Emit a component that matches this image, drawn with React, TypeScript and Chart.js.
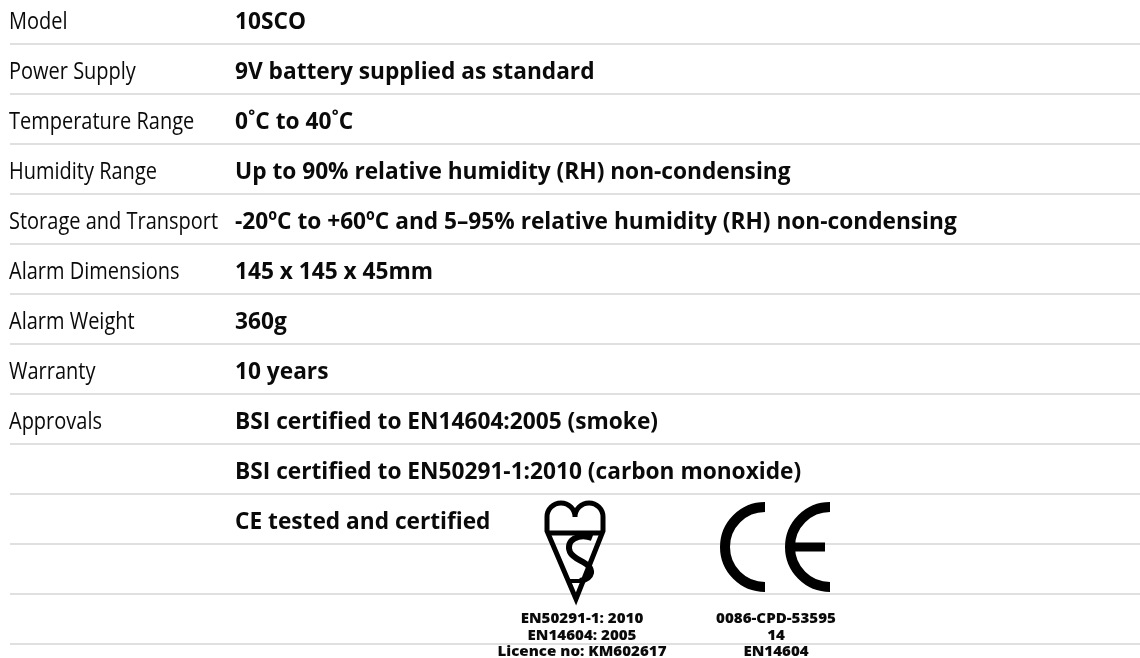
import React, { useEffect, useRef } from "react";
import { Chart, registerables } from "chart.js";

Chart.register(...registerables);

// ---- data ----
const rowLabels = [
  "Model",
  "Power Supply",
  "Temperature Range",
  "Humidity Range",
  "Storage and Transport",
  "Alarm Dimensions",
  "Alarm Weight",
  "Warranty",
  "Approvals",
  "",
  "",
  "",
  "",
];
const rowValues = [
  "10SCO",
  "9V battery supplied as standard",
  "0˚C to 40˚C",
  "Up to 90% relative humidity (RH) non-condensing",
  "-20ºC to +60ºC and 5–95% relative humidity (RH) non-condensing",
  "145 x 145 x 45mm",
  "360g",
  "10 years",
  "BSI certified to EN14604:2005 (smoke)",
  "BSI certified to EN50291-1:2010 (carbon monoxide)",
  "CE tested and certified",
  "",
  "",
];
const rowIndex = rowLabels.map((_, i) => i);
const rowSeparators = rowIndex.map((i) => i + 0.5);
const kitemarkCaption = ["EN50291-1: 2010", "EN14604: 2005", "Licence no: KM602617"];
const ceCaption = ["0086-CPD-53595", "14", "EN14604"];

// ---- layout / style constants ----
const W = 1140;
const H = 658;
const LABEL_X = 9;
const VALUE_X = 235;
const KITE_X = 575;
const KITE_CAPTION_X = 582;
const CE_X = 797;
const CE_CAPTION_X = 776;
const LOGO_ROW = 10;
const CAPTION_ROW = 12;
const FONT = '"Open Sans", "Noto Sans", sans-serif';
const TEXT_COLOR = "#0a0a0a";
const GRID_COLOR = "#e0e0e0";
const REG_SCALE = 0.833;
const BOLD_SCALE = 0.945;
const CAP_SCALE = 1.08;

function drawText(
  ctx: CanvasRenderingContext2D,
  text: string,
  x: number,
  y: number,
  font: string,
  sx: number,
  align: CanvasTextAlign
) {
  if (!text) return;
  ctx.save();
  ctx.font = font;
  ctx.fillStyle = TEXT_COLOR;
  ctx.textAlign = align;
  ctx.textBaseline = "alphabetic";
  ctx.translate(x, y);
  ctx.scale(sx, 1);
  ctx.fillText(text, 0, 0);
  ctx.restore();
}

const tablePlugin = {
  id: "specTable",
  afterDatasetsDraw(chart: any) {
    const ctx: CanvasRenderingContext2D = chart.ctx;
    const xs = chart.scales.x;
    const ys = chart.scales.y;

    // label column
    const m0 = chart.getDatasetMeta(0);
    m0.data.forEach((el: any, i: number) => {
      drawText(ctx, rowLabels[i], el.x, el.y + 10.3, `400 24px ${FONT}`, REG_SCALE, "left");
    });
    // value column
    const m1 = chart.getDatasetMeta(1);
    m1.data.forEach((el: any, i: number) => {
      drawText(ctx, rowValues[i], el.x, el.y + 10.3, `700 24px ${FONT}`, BOLD_SCALE, "left");
    });

    // ---- Kitemark ----
    const kx = xs.getPixelForValue(KITE_X);
    const ky = ys.getPixelForValue(LOGO_ROW);
    ctx.save();
    ctx.translate(kx, ky);
    ctx.strokeStyle = "#000";
    ctx.lineJoin = "miter";
    ctx.lineWidth = 5;
    ctx.beginPath();
    ctx.moveTo(0, -2);
    ctx.arc(-14, -2, 14, 0, Math.PI, true);
    ctx.lineTo(-28, 12);
    ctx.lineTo(1, 80);
    ctx.lineTo(28, 12);
    ctx.lineTo(28, -2);
    ctx.arc(14, -2, 14, 0, Math.PI, true);
    ctx.stroke();
    // bar
    ctx.beginPath();
    ctx.moveTo(-28, 14);
    ctx.lineTo(28, 14);
    ctx.stroke();
    // S
    ctx.lineWidth = 6;
    ctx.lineCap = "butt";
    ctx.beginPath();
    ctx.moveTo(17, 19);
    ctx.bezierCurveTo(4, 14, -10, 21, -5, 33);
    ctx.bezierCurveTo(-1, 42, 17, 43, 16, 54);
    ctx.bezierCurveTo(15, 59, 10, 61, 5, 62);
    ctx.stroke();
    ctx.lineWidth = 4;
    ctx.beginPath();
    ctx.moveTo(-7, 62);
    ctx.lineTo(9, 62);
    ctx.stroke();
    ctx.restore();

    // ---- CE mark ----
    const cx = xs.getPixelForValue(CE_X);
    const cy = ys.getPixelForValue(LOGO_ROW);
    ctx.save();
    ctx.translate(cx, cy);
    ctx.strokeStyle = "#000";
    ctx.fillStyle = "#000";
    ctx.lineWidth = 10;
    ctx.lineCap = "butt";
    ctx.beginPath();
    ctx.arc(-32, 28, 40, Math.PI / 2, (3 * Math.PI) / 2, false);
    ctx.stroke();
    ctx.beginPath();
    ctx.arc(33, 28, 40, Math.PI / 2, (3 * Math.PI) / 2, false);
    ctx.stroke();
    ctx.fillRect(-4, 23.5, 32, 9);
    ctx.restore();

    // ---- captions ----
    const capY = ys.getPixelForValue(CAPTION_ROW);
    const offs = [4, 21, 37];
    kitemarkCaption.forEach((t, i) => {
      drawText(ctx, t, xs.getPixelForValue(KITE_CAPTION_X), capY + offs[i], `800 14px ${FONT}`, CAP_SCALE, "center");
    });
    ceCaption.forEach((t, i) => {
      drawText(ctx, t, xs.getPixelForValue(CE_CAPTION_X), capY + offs[i], `800 14px ${FONT}`, CAP_SCALE, "center");
    });
  },
};

export default function App() {
  const canvasRef = useRef<HTMLCanvasElement | null>(null);

  useEffect(() => {
    document.body.style.margin = "0";
    document.body.style.background = "#ffffff";
    const canvas = canvasRef.current;
    if (!canvas) return;

    const chart = new Chart(canvas, {
      type: "scatter",
      data: {
        datasets: [
          {
            label: "labels",
            data: rowIndex.map((i) => ({ x: LABEL_X, y: i })),
            pointRadius: 0,
            pointHoverRadius: 0,
            clip: false as any,
          },
          {
            label: "values",
            data: rowIndex.map((i) => ({ x: VALUE_X, y: i })),
            pointRadius: 0,
            pointHoverRadius: 0,
            clip: false as any,
          },
        ],
      },
      options: {
        animation: false,
        responsive: false,
        maintainAspectRatio: false,
        events: [],
        layout: { padding: { left: 10, right: 0, top: 0, bottom: 0 } },
        plugins: {
          legend: { display: false },
          tooltip: { enabled: false },
          title: { display: false },
        },
        scales: {
          x: {
            type: "linear",
            min: 10,
            max: W,
            display: false,
          },
          y: {
            type: "linear",
            min: -0.38,
            max: 12.78,
            reverse: true,
            display: true,
            afterBuildTicks: (scale: any) => {
              scale.ticks = rowSeparators.map((v) => ({ value: v }));
            },
            afterFit: (scale: any) => {
              scale.width = 0;
            },
            ticks: { display: false },
            border: { display: false },
            grid: {
              color: GRID_COLOR,
              lineWidth: 2,
              drawTicks: false,
              tickLength: 0,
            },
          },
        },
      },
      plugins: [tablePlugin],
    });

    let alive = true;
    if ((document as any).fonts && (document as any).fonts.load) {
      Promise.all([
        (document as any).fonts.load(`400 24px "Open Sans"`),
        (document as any).fonts.load(`700 24px "Open Sans"`),
      ])
        .then(() => {
          if (alive) chart.draw();
        })
        .catch(() => {});
    }

    return () => {
      alive = false;
      chart.destroy();
    };
  }, []);

  return (
    <div style={{ width: W, height: H, position: "relative", background: "#fff" }}>
      <canvas ref={canvasRef} width={W} height={H} style={{ display: "block", width: W, height: H }} />
    </div>
  );
}
